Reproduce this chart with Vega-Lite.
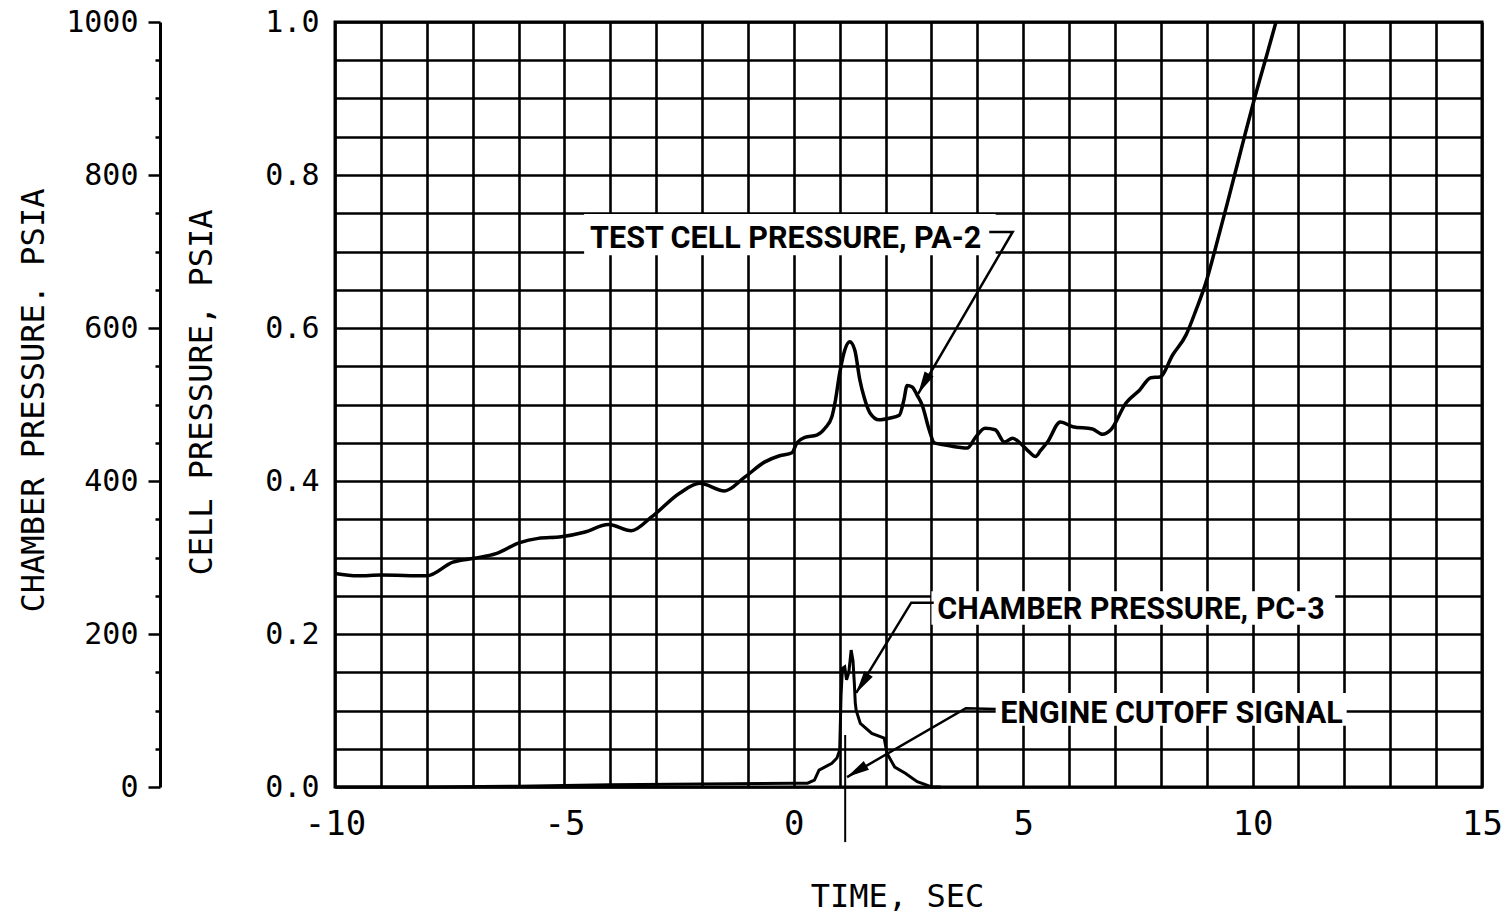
{
  "$schema": "https://vega.github.io/schema/vega-lite/v6.json",
  "width": 1147,
  "height": 765,
  "autosize": "none",
  "padding": {"left": 335, "top": 22, "right": 25, "bottom": 133},
  "background": "white",
  "config": {
    "view": {"stroke": "black", "strokeWidth": 3},
    "axis": {"labelFont": "DejaVu Sans Mono", "titleFont": "DejaVu Sans Mono", "labelColor": "black", "titleColor": "black", "titleFontWeight": "normal"}
  },
  "datasets": {
    "pa2": [
      {"t": -10, "p": 0.279}, {"t": -9.5, "p": 0.276}, {"t": -9, "p": 0.277}, {"t": -8, "p": 0.276},
      {"t": -7.43, "p": 0.294}, {"t": -6.97, "p": 0.299}, {"t": -6.49, "p": 0.305}, {"t": -5.99, "p": 0.319},
      {"t": -5.57, "p": 0.325}, {"t": -5.07, "p": 0.327}, {"t": -4.57, "p": 0.333}, {"t": -4.04, "p": 0.343},
      {"t": -3.54, "p": 0.335}, {"t": -3.1, "p": 0.353}, {"t": -2.49, "p": 0.384}, {"t": -2.05, "p": 0.397},
      {"t": -1.51, "p": 0.387}, {"t": -1.07, "p": 0.405}, {"t": -0.63, "p": 0.425}, {"t": -0.31, "p": 0.433},
      {"t": -0.04, "p": 0.437}, {"t": 0.07, "p": 0.45}, {"t": 0.24, "p": 0.457}, {"t": 0.5, "p": 0.46},
      {"t": 0.68, "p": 0.469}, {"t": 0.83, "p": 0.484}, {"t": 0.9, "p": 0.503}, {"t": 1.0, "p": 0.541},
      {"t": 1.11, "p": 0.571}, {"t": 1.22, "p": 0.582}, {"t": 1.33, "p": 0.571}, {"t": 1.44, "p": 0.532},
      {"t": 1.53, "p": 0.51}, {"t": 1.66, "p": 0.489}, {"t": 1.86, "p": 0.48}, {"t": 2.08, "p": 0.482},
      {"t": 2.3, "p": 0.486}, {"t": 2.4, "p": 0.506}, {"t": 2.47, "p": 0.525}, {"t": 2.58, "p": 0.523},
      {"t": 2.69, "p": 0.512}, {"t": 2.8, "p": 0.499}, {"t": 2.95, "p": 0.467}, {"t": 3.06, "p": 0.45},
      {"t": 3.3, "p": 0.447}, {"t": 3.6, "p": 0.444}, {"t": 3.78, "p": 0.443}, {"t": 3.96, "p": 0.457},
      {"t": 4.17, "p": 0.469}, {"t": 4.39, "p": 0.467}, {"t": 4.59, "p": 0.451}, {"t": 4.77, "p": 0.456},
      {"t": 4.96, "p": 0.448}, {"t": 5.13, "p": 0.438}, {"t": 5.27, "p": 0.432}, {"t": 5.38, "p": 0.44},
      {"t": 5.53, "p": 0.451}, {"t": 5.81, "p": 0.477}, {"t": 6.08, "p": 0.471}, {"t": 6.51, "p": 0.468},
      {"t": 6.73, "p": 0.461}, {"t": 6.91, "p": 0.467}, {"t": 7.24, "p": 0.502}, {"t": 7.54, "p": 0.519},
      {"t": 7.78, "p": 0.535}, {"t": 7.98, "p": 0.536}, {"t": 8.26, "p": 0.565}, {"t": 8.55, "p": 0.591},
      {"t": 8.77, "p": 0.624}, {"t": 8.98, "p": 0.659}, {"t": 9.18, "p": 0.702}, {"t": 9.5, "p": 0.775},
      {"t": 9.8, "p": 0.845}, {"t": 10.05, "p": 0.902}, {"t": 10.3, "p": 0.955}, {"t": 10.51, "p": 1.0}
    ],
    "pc3": [
      {"t": -10, "pc": 0}, {"t": -8, "pc": 0}, {"t": -6, "pc": 1}, {"t": -4, "pc": 3}, {"t": -2, "pc": 4},
      {"t": 0, "pc": 5}, {"t": 0.3, "pc": 5}, {"t": 0.45, "pc": 9}, {"t": 0.55, "pc": 22}, {"t": 0.83, "pc": 31},
      {"t": 0.94, "pc": 38}, {"t": 1.0, "pc": 48}, {"t": 1.03, "pc": 120}, {"t": 1.06, "pc": 155},
      {"t": 1.11, "pc": 157}, {"t": 1.15, "pc": 140}, {"t": 1.2, "pc": 150}, {"t": 1.25, "pc": 179},
      {"t": 1.29, "pc": 165}, {"t": 1.32, "pc": 135}, {"t": 1.34, "pc": 110}, {"t": 1.36, "pc": 100},
      {"t": 1.45, "pc": 83}, {"t": 1.7, "pc": 70}, {"t": 1.97, "pc": 64}, {"t": 2.03, "pc": 44},
      {"t": 2.2, "pc": 26}, {"t": 2.43, "pc": 18}, {"t": 2.69, "pc": 7}, {"t": 2.87, "pc": 3}, {"t": 3.0, "pc": 0},
      {"t": 3.2, "pc": 0}
    ],
    "cutoff": [{"t": 1.12, "top": 0.068, "bottom": -0.072}],
    "boxes": [
      {"x1": -4.57, "x2": 4.4, "y1": 0.695, "y2": 0.749},
      {"x1": 3.0, "x2": 11.8, "y1": 0.212, "y2": 0.256},
      {"x1": 4.4, "x2": 12.05, "y1": 0.08, "y2": 0.123}
    ],
    "labels": [
      {"x": -4.44, "y": 0.705, "text": "TEST CELL PRESSURE, PA-2"},
      {"x": 3.125, "y": 0.22, "text": "CHAMBER PRESSURE, PC-3"},
      {"x": 4.5, "y": 0.084, "text": "ENGINE CUTOFF SIGNAL"}
    ],
    "leaders": [
      {"id": 1, "o": 1, "x": 4.26, "y": 0.7255}, {"id": 1, "o": 2, "x": 4.77, "y": 0.7255}, {"id": 1, "o": 3, "x": 2.71, "y": 0.514},
      {"id": 2, "o": 1, "x": 3.05, "y": 0.241}, {"id": 2, "o": 2, "x": 2.56, "y": 0.241}, {"id": 2, "o": 3, "x": 1.36, "y": 0.123},
      {"id": 3, "o": 1, "x": 4.4, "y": 0.102}, {"id": 3, "o": 2, "x": 3.75, "y": 0.103}, {"id": 3, "o": 3, "x": 1.16, "y": 0.013}
    ],
    "tips": [
      {"id": 1, "x": 2.71, "y": 0.514},
      {"id": 2, "x": 1.36, "y": 0.123},
      {"id": 3, "x": 1.16, "y": 0.013}
    ]
  },
  "resolve": {"scale": {"y": "independent"}, "axis": {"y": "independent"}},
  "layer": [
    {
      "data": {"name": "pa2"},
      "mark": {"type": "line", "color": "black", "strokeWidth": 3.5, "interpolate": "monotone"},
      "encoding": {
        "x": {
          "field": "t", "type": "quantitative",
          "scale": {"domain": [-10, 15], "nice": false, "zero": false},
          "axis": {
            "orient": "bottom",
            "values": [-10, -9, -8, -7, -6, -5, -4, -3, -2, -1, 0, 1, 2, 3, 4, 5, 6, 7, 8, 9, 10, 11, 12, 13, 14, 15],
            "labelExpr": "datum.value % 5 == 0 ? '' + datum.value : ''",
            "labelFlush": false,
            "labelFontSize": 34, "labelPadding": 20, "ticks": false, "domain": false,
            "grid": true, "gridColor": "black", "gridWidth": 2.6, "gridOpacity": 1,
            "title": "TIME, SEC", "titleFontSize": 32, "titlePadding": 40, "titleX": 562
          }
        },
        "y": {
          "field": "p", "type": "quantitative",
          "scale": {"domain": [0, 1], "nice": false},
          "axis": {
            "orient": "left",
            "values": [0, 0.05, 0.1, 0.15, 0.2, 0.25, 0.3, 0.35, 0.4, 0.45, 0.5, 0.55, 0.6, 0.65, 0.7, 0.75, 0.8, 0.85, 0.9, 0.95, 1],
            "labelExpr": "round(datum.value * 100) % 20 == 0 ? format(datum.value, '.1f') : ''",
            "labelFontSize": 30, "labelPadding": 16, "ticks": false, "domain": false,
            "grid": true, "gridColor": "black", "gridWidth": 2.6, "gridOpacity": 1,
            "title": "CELL PRESSURE, PSIA", "titleFontSize": 32, "titleX": -117, "titleY": 370
          }
        }
      }
    },
    {
      "data": {"name": "pc3"},
      "mark": {"type": "line", "color": "black", "strokeWidth": 3},
      "encoding": {
        "x": {"field": "t", "type": "quantitative"},
        "y": {
          "field": "pc", "type": "quantitative",
          "scale": {"domain": [0, 1000], "nice": false},
          "axis": {
            "orient": "left", "offset": 175,
            "values": [0, 50, 100, 150, 200, 250, 300, 350, 400, 450, 500, 550, 600, 650, 700, 750, 800, 850, 900, 950, 1000],
            "labelExpr": "datum.value % 200 == 0 ? '' + datum.value : ''",
            "labelFontSize": 30, "labelPadding": 10, "grid": false,
            "domain": true, "domainColor": "black", "domainWidth": 3,
            "ticks": true, "tickColor": "black", "tickWidth": 2.5,
            "tickSize": {"condition": {"test": "datum.value % 200 == 0", "value": 12}, "value": 5},
            "title": "CHAMBER PRESSURE. PSIA", "titleFontSize": 32, "titleX": -110, "titleY": 378
          }
        }
      }
    },
    {
      "data": {"name": "cutoff"},
      "mark": {"type": "rule", "color": "black", "strokeWidth": 2},
      "encoding": {
        "x": {"field": "t", "type": "quantitative"},
        "y": {"field": "top", "type": "quantitative", "scale": {"domain": [0, 1], "nice": false}, "axis": null},
        "y2": {"field": "bottom"}
      }
    },
    {
      "data": {"name": "boxes"},
      "mark": {"type": "rect", "color": "white"},
      "encoding": {
        "x": {"field": "x1", "type": "quantitative"},
        "x2": {"field": "x2"},
        "y": {"field": "y1", "type": "quantitative", "scale": {"domain": [0, 1], "nice": false}, "axis": null},
        "y2": {"field": "y2"}
      }
    },
    {
      "data": {"name": "labels"},
      "mark": {"type": "text", "align": "left", "baseline": "alphabetic", "font": "Roboto", "fontWeight": "bold", "fontSize": 30.5, "color": "black"},
      "encoding": {
        "x": {"field": "x", "type": "quantitative"},
        "y": {"field": "y", "type": "quantitative", "scale": {"domain": [0, 1], "nice": false}, "axis": null},
        "text": {"field": "text"}
      }
    },
    {
      "data": {"name": "leaders"},
      "mark": {"type": "line", "color": "black", "strokeWidth": 2.5},
      "encoding": {
        "x": {"field": "x", "type": "quantitative"},
        "y": {"field": "y", "type": "quantitative", "scale": {"domain": [0, 1], "nice": false}, "axis": null},
        "detail": {"field": "id"},
        "order": {"field": "o"}
      }
    },
    {
      "data": {"name": "tips"},
      "transform": [{"filter": "datum.id == 1"}],
      "mark": {"type": "point", "shape": "M0,0L0.5,2.2L-0.5,2.2Z", "filled": true, "color": "black", "opacity": 1, "size": 420, "angle": 209},
      "encoding": {
        "x": {"field": "x", "type": "quantitative"},
        "y": {"field": "y", "type": "quantitative", "scale": {"domain": [0, 1], "nice": false}, "axis": null}
      }
    },
    {
      "data": {"name": "tips"},
      "transform": [{"filter": "datum.id == 2"}],
      "mark": {"type": "point", "shape": "M0,0L0.5,2.2L-0.5,2.2Z", "filled": true, "color": "black", "opacity": 1, "size": 420, "angle": 213},
      "encoding": {
        "x": {"field": "x", "type": "quantitative"},
        "y": {"field": "y", "type": "quantitative", "scale": {"domain": [0, 1], "nice": false}, "axis": null}
      }
    },
    {
      "data": {"name": "tips"},
      "transform": [{"filter": "datum.id == 3"}],
      "mark": {"type": "point", "shape": "M0,0L0.5,2.2L-0.5,2.2Z", "filled": true, "color": "black", "opacity": 1, "size": 420, "angle": 239},
      "encoding": {
        "x": {"field": "x", "type": "quantitative"},
        "y": {"field": "y", "type": "quantitative", "scale": {"domain": [0, 1], "nice": false}, "axis": null}
      }
    }
  ]
}
